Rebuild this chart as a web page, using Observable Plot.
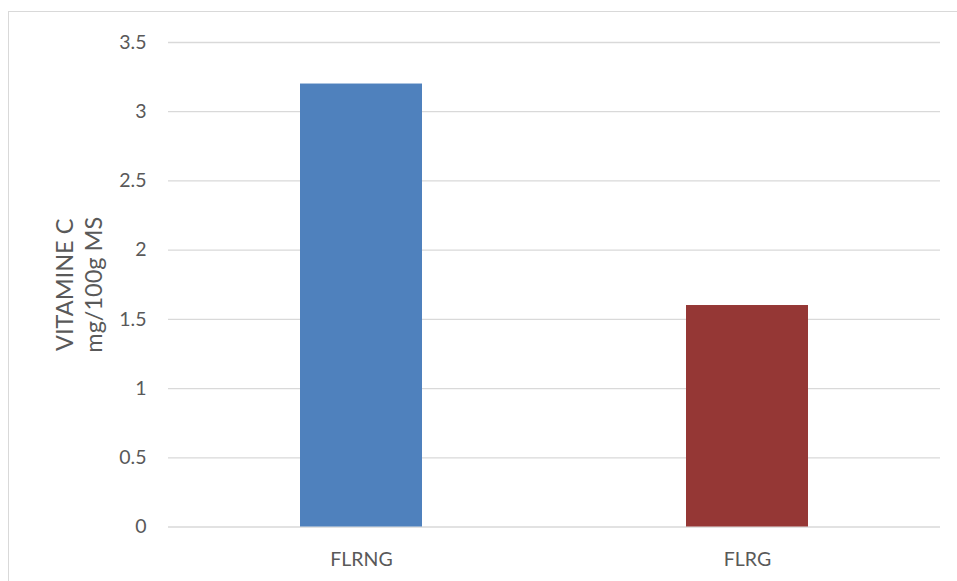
<!DOCTYPE html>
<html>
<head>
<meta charset="utf-8">
<script src="https://cdn.jsdelivr.net/npm/d3@7"></script>
<script src="https://cdn.jsdelivr.net/npm/@observablehq/plot@0.6"></script>
<style>
  html, body { margin: 0; padding: 0; background: #ffffff; overflow: hidden; }
  #chart { position: absolute; left: 0; top: 0; }
  #frame {
    position: absolute; left: 8px; top: 11px; width: 1200px; height: 900px;
    border: 1.5px solid #d9d9d9; pointer-events: none;
  }
</style>
</head>
<body>
<div id="chart"></div>
<div id="frame"></div>
<script>
// Vitamin C content per sample (mg/100g dry matter)
const categories = ["FLRNG", "FLRG"];
const vitaminC = [3.2, 1.6];
const barColors = ["#4f81bd", "#953735"];
const yTicks = [0, 0.5, 1, 1.5, 2, 2.5, 3, 3.5];
const yTitle = "VITAMINE C\nmg/100g MS";

const rows = categories.map((c, i) => ({category: c, value: vitaminC[i], color: barColors[i]}));

const textColor = "#595959";
const font = "Lato, 'Open Sans', sans-serif";

const chart = Plot.plot({
  width: 957,
  height: 581,
  marginLeft: 168,
  marginRight: 17,
  marginTop: 42,
  marginBottom: 54.5,
  style: {fontFamily: font, color: textColor, background: "transparent", overflow: "visible"},
  x: {domain: categories, paddingInner: 0.684, paddingOuter: 0.342},
  y: {domain: [0, 3.5]},
  marks: [
    Plot.ruleY(yTicks, {stroke: "#d9d9d9", strokeWidth: 1.3}),
    Plot.barY(rows, {x: "category", y: "value", fill: "color"}),
    Plot.axisY({
      ticks: yTicks, tickSize: 0, tickPadding: 22, tickFormat: d => String(d),
      fontSize: 19.5, label: null, fill: textColor
    }),
    Plot.axisX({tickSize: 0, tickPadding: 25, fontSize: 19.5, label: null, fill: textColor}),
    // two-line rotated axis title, centred on the plot height
    Plot.text([yTitle], {
      frameAnchor: "left", textAnchor: "middle", dx: -90, rotate: -90, fontSize: 23.5,
      lineHeight: 1.2, fill: textColor
    })
  ]
});

document.getElementById("chart").appendChild(chart);
</script>
</body>
</html>
